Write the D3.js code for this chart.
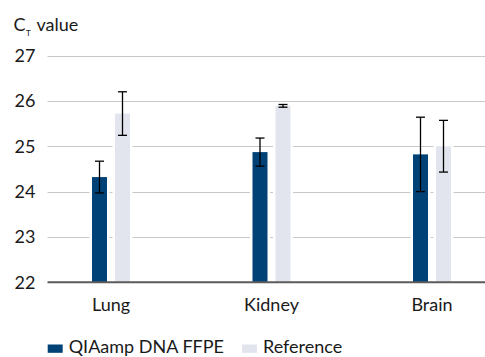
<!DOCTYPE html>
<html>
<head>
<meta charset="utf-8">
<script src="https://cdn.jsdelivr.net/npm/d3@7/dist/d3.min.js"></script>
<style>
  html, body { margin: 0; padding: 0; background: #fff; }
  svg { display: block; }
  text { font-family: Lato, "Open Sans", sans-serif; fill: #1a1a1a; }
</style>
</head>
<body>
<svg id="chart" width="485" height="357"></svg>
<script>
// Tissue types and the two extraction methods compared
const categories = ["Lung", "Kidney", "Brain"];
const series = ["QIAamp DNA FFPE", "Reference"];
// Mean CT values and their error (± half range) per tissue
const qiaampMeans = [24.32, 24.87, 24.82];
const qiaampErrors = [0.35, 0.31, 0.82];
const referenceMeans = [25.72, 25.89, 25.00];
const referenceErrors = [0.48, 0.03, 0.57];
const yTicks = [22, 23, 24, 25, 26, 27];

const colors = { "QIAamp DNA FFPE": "#004176", "Reference": "#e2e5ee" };

const rows = [];
categories.forEach((c, i) => {
  rows.push({ category: c, series: series[0], mean: qiaampMeans[i], err: qiaampErrors[i] });
  rows.push({ category: c, series: series[1], mean: referenceMeans[i], err: referenceErrors[i] });
});

const svg = d3.select("#chart");
const plotLeft = 47.5, plotRight = 485;

const y = d3.scaleLinear().domain([22, 27]).range([282.3, 55.5]);
const x = d3.scaleBand().domain(categories).range([30.75, 512.25]).padding(0);
const xInner = d3.scaleBand().domain(series).range([-19, 19])
  .paddingInner(8 / 23).paddingOuter(0);
const groupCenter = c => x(c) + x.bandwidth() / 2;

// Horizontal gridlines
svg.append("g").selectAll("line")
  .data(yTicks.filter(t => t !== 22))
  .join("line")
  .attr("x1", plotLeft).attr("x2", plotRight)
  .attr("y1", d => Math.round(y(d)) + 0.5).attr("y2", d => Math.round(y(d)) + 0.5)
  .attr("stroke", "#c8c8c8").attr("stroke-width", 1);

// Tick labels
svg.append("g").selectAll("text")
  .data(yTicks)
  .join("text")
  .attr("x", 35.5)
  .attr("y", d => y(d) + 6.5)
  .attr("text-anchor", "end")
  .attr("font-size", 18)
  .text(d => d);

// White halo behind bars interrupts the gridlines
const barGroup = svg.append("g");
barGroup.selectAll("rect.halo")
  .data(rows)
  .join("rect")
  .attr("class", "halo")
  .attr("x", d => groupCenter(d.category) + xInner(d.series) - 2.5)
  .attr("width", xInner.bandwidth() + 5)
  .attr("y", d => y(d.mean) - 2)
  .attr("height", d => y(22) - y(d.mean) + 2)
  .attr("fill", "#fff");

barGroup.selectAll("rect.bar")
  .data(rows)
  .join("rect")
  .attr("class", "bar")
  .attr("x", d => groupCenter(d.category) + xInner(d.series))
  .attr("width", xInner.bandwidth())
  .attr("y", d => y(d.mean))
  .attr("height", d => y(22) - y(d.mean))
  .attr("fill", d => colors[d.series]);

// Baseline
svg.append("line")
  .attr("x1", plotLeft).attr("x2", plotRight)
  .attr("y1", y(22)).attr("y2", y(22))
  .attr("stroke", "#5b5b5b").attr("stroke-width", 2);

// Error bars
const errG = svg.append("g").attr("stroke", "#000").attr("stroke-width", 1.3).attr("fill", "none");
rows.forEach(d => {
  const cx = groupCenter(d.category) + xInner(d.series) + xInner.bandwidth() / 2;
  const top = y(d.mean + d.err), bot = y(d.mean - d.err);
  errG.append("line").attr("x1", cx).attr("x2", cx).attr("y1", top).attr("y2", bot);
  errG.append("line").attr("x1", cx - 4.5).attr("x2", cx + 4.5).attr("y1", top).attr("y2", top);
  errG.append("line").attr("x1", cx - 4.5).attr("x2", cx + 4.5).attr("y1", bot).attr("y2", bot);
});

// Category labels
svg.append("g").selectAll("text")
  .data(categories)
  .join("text")
  .attr("x", d => groupCenter(d))
  .attr("y", 310.5)
  .attr("text-anchor", "middle")
  .attr("font-size", 18)
  .text(d => d);

// Axis title with subscript T
const title = svg.append("text").attr("x", 13.5).attr("y", 30.7).attr("font-size", 18);
title.append("tspan").text("C");
title.append("tspan").attr("font-size", 8).attr("dy", 5).attr("dx", 0.5).text("T");
title.append("tspan").attr("dy", -5).attr("x", 36.5).text("value");

// Legend
const legendItems = [
  { name: series[0], sx: 47.7, tx: 68.7 },
  { name: series[1], sx: 242, tx: 263 }
];
const lg = svg.append("g");
legendItems.forEach(it => {
  lg.append("rect").attr("x", it.sx).attr("y", 344.5).attr("width", 15).attr("height", 8.3)
    .attr("fill", colors[it.name]);
  lg.append("text").attr("x", it.tx).attr("y", 353).attr("font-size", 18).text(it.name);
});
</script>
</body>
</html>
